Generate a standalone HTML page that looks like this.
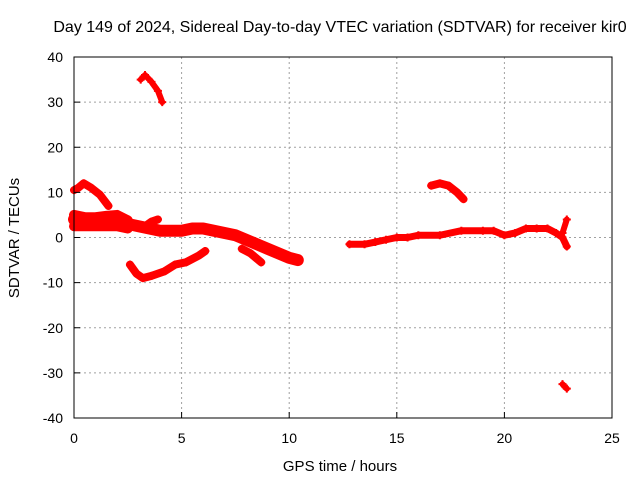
<!DOCTYPE html>
<html><head><meta charset="utf-8"><style>
body{margin:0;background:#fff}
svg text{font-family:"Liberation Sans",sans-serif;font-size:14px;fill:#000}
</style></head><body>
<svg id="chart" width="640" height="480" xmlns="http://www.w3.org/2000/svg">
<rect width="640" height="480" fill="#fff"/>
<text x="340" y="32" text-anchor="middle" style="font-size:16px">Day 149 of 2024, Sidereal Day-to-day VTEC variation (SDTVAR) for receiver kir0</text>
<g id="grid"></g>
<g id="marks"></g>
<rect x="74" y="57" width="538" height="361" fill="none" stroke="#000" stroke-width="1"/>
<g id="ticks"></g>
<text x="340" y="471" text-anchor="middle" style="font-size:15px">GPS time / hours</text>
<text transform="translate(19,238) rotate(-90)" text-anchor="middle" style="font-size:15px">SDTVAR / TECUs</text>
</svg>
<script>
const xTicks=[0,5,10,15,20,25];
const yTicks=[-40,-30,-20,-10,0,10,20,30,40];
const arcTop=[[3.1,35],[3.3,36],[3.6,34.5],[3.9,32.5],[4.1,30]];
const arcEarly=[[0,10.5],[0.2,11],[0.45,12],[0.8,11],[1.2,9.5],[1.6,7]];
const mainBand=[[0,4],[0.5,3.5],[1,3.5],[1.5,3.5],[2,4],[2.5,3],[3,2.5],[3.5,2],[4,1.5],[4.5,1.5],[5,1.5],[5.5,2],[6,2],[6.5,1.5],[7,1],[7.5,0.5],[8,-0.5],[8.5,-1.5],[9,-2.5],[9.5,-3.5],[10,-4.5],[10.4,-5]];
const bandUpper=[[0,5],[0.5,4.5],[1,4.5],[1.5,4.8],[2,5],[2.5,3.8]];
const bandLower=[[0,2.5],[0.5,2.5],[1,2.5],[1.5,2.5],[2,2.5],[2.5,2]];
const branchLow=[[7.8,-2.5],[8.2,-3.5],[8.7,-5.5]];
const arcLow=[[2.6,-6],[2.9,-8],[3.2,-9],[3.6,-8.5],[4.2,-7.5],[4.7,-6],[5.2,-5.5],[5.8,-4],[6.1,-3]];
const branchUp=[[3.3,2.5],[3.6,3.5],[3.9,4]];
const rightBand=[[12.8,-1.5],[13.5,-1.5],[14,-1],[14.5,-0.5],[15,0],[15.5,0],[16,0.5],[17,0.5],[18,1.5],[19,1.5],[19.5,1.5],[20,0.5],[20.5,1],[21,2],[21.5,2],[22,2],[22.4,1],[22.7,0],[22.9,-2]];
const spike=[[22.7,1],[22.9,4]];
const arcRight=[[16.6,11.5],[17,12],[17.4,11.5],[17.8,10],[18.1,8.5]];
const outlier=[[22.7,-32.5],[22.9,-33.5]];
const series=[["arc-top",arcTop,3],["arc-early",arcEarly,4],["main-band",mainBand,6],["band-upper",bandUpper,5],["band-lower",bandLower,5],["branch-low",branchLow,4],["arc-low",arcLow,4],["branch-up",branchUp,4],["right-band",rightBand,3.5],["spike",spike,3],["arc-right",arcRight,4],["outlier",outlier,3]];
const X=v=>74+v*538/25, Y=v=>237.5-v*361/80;
const NS="http://www.w3.org/2000/svg";
const g=document.getElementById('grid'),t=document.getElementById('ticks'),m=document.getElementById('marks');
function mk(tag,a,p){const e=document.createElementNS(NS,tag);for(const k in a)e.setAttribute(k,a[k]);p.appendChild(e);return e;}
xTicks.forEach(v=>{
 if(v>0&&v<25){const l=mk('line',{x1:X(v),x2:X(v),y1:57,y2:418,stroke:'#a0a0a0','stroke-dasharray':'2,3'},g);
 
 }
 const tk=mk('line',{x1:X(v),x2:X(v),y1:418,y2:412,stroke:'#000'},t);
 
 
 const tx=mk('text',{x:X(v),y:443,'text-anchor':'middle'},t);tx.textContent=v;
 
 
});
yTicks.forEach(v=>{
 if(v>-40&&v<40){const l=mk('line',{x1:74,x2:612,y1:Y(v),y2:Y(v),stroke:'#a0a0a0','stroke-dasharray':'2,3'},g);
 
 }
 const tk=mk('line',{x1:74,x2:80,y1:Y(v),y2:Y(v),stroke:'#000'},t);
 
 
 const tx=mk('text',{x:63,y:Y(v)+5,'text-anchor':'end'},t);tx.textContent=v;
 
 
});
series.forEach(([name,pts,w])=>{
 const pl=mk('polyline',{points:pts.map(p=>X(p[0])+','+Y(p[1])).join(' '),fill:'none',stroke:'#f00','stroke-width':w*2,'stroke-linejoin':'round','stroke-linecap':'round'},m);
 
 
 pts.forEach(p=>{const x=X(p[0]),y=Y(p[1]);
  const c=mk('path',{d:`M${x-4},${y}H${x+4}M${x},${y-4}V${y+4}`,stroke:'#f00','stroke-width':2},m);
  
  });
});
</script>
</body></html>
